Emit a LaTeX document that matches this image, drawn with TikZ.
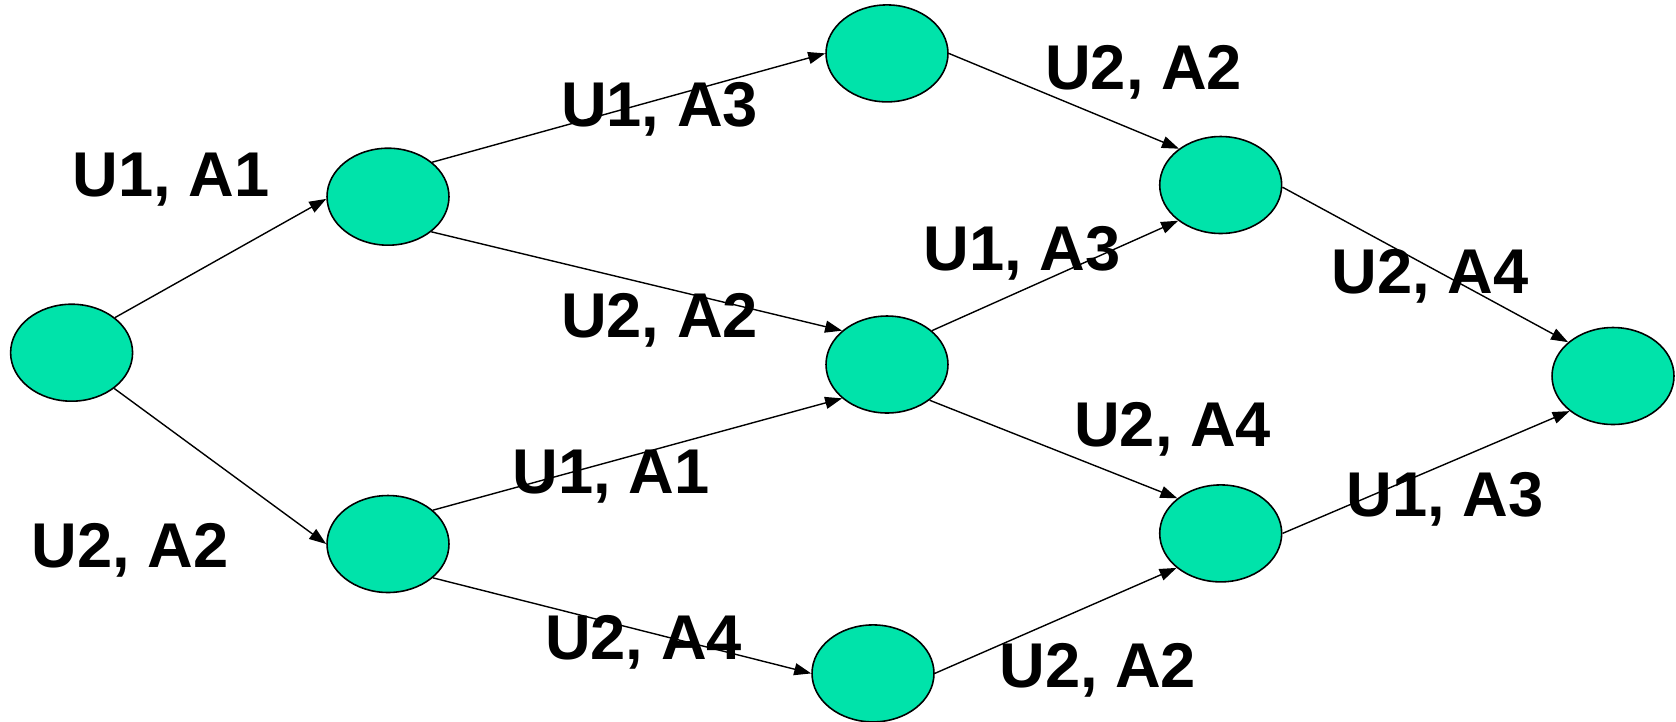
\documentclass[tikz,border=0pt]{standalone}
\usepackage{fontspec}
\setmainfont{Liberation Sans}
\usetikzlibrary{shapes.geometric,arrows.meta}

\definecolor{statefill}{RGB}{0,227,170}

\tikzset{
  state/.style={ellipse, draw=black, line width=0.9pt, fill=statefill,
    minimum width=2.44cm, minimum height=1.94cm, inner sep=0pt},
  move/.style={-{Triangle[length=0.34cm,width=0.24cm]}, line width=0.8pt},
  lbl/.style={font=\fontsize{36}{40}\selectfont\bfseries, inner sep=0pt}
}

\begin{document}
\begin{tikzpicture}[x=0.02cm,y=-0.02cm]
  \useasboundingbox (0,0) rectangle (1676,721);
  % states, left to right
  \node[state] (s0) at (71.6,352.7) {};
  \node[state] (s1) at (388,196.7) {};
  \node[state] (s2) at (388,544) {};
  \node[state] (s3) at (887,53.4) {};
  \node[state] (s4) at (887,364.5) {};
  \node[state] (s5) at (873,673.4) {};
  \node[state] (s6) at (1220.7,185) {};
  \node[state] (s7) at (1220.7,533.4) {};
  \node[state] (s8) at (1613,376) {};
  % transitions, from/to border angles
  \foreach \a/\p/\b/\q in {s0/39/s1/182, s0/-40/s2/180,
                           s1/38/s3/180, s1/-39/s4/143,
                           s2/37/s4/217, s2/-37/s5/180,
                           s3/0/s6/139,  s4/37/s6/220,
                           s4/-40/s7/141, s5/0/s7/218,
                           s6/-2/s8/143, s7/0/s8/219}
    \draw[move] (\a.\p) -- (\b.\q);
  % user/action labels
  \node[lbl] (l01) at (171,179.6) {U1, A1};
  \node[lbl] (l02) at (130.4,550.5) {U2, A2};
  \node[lbl] (l13) at (659.5,109) {U1, A3};
  \node[lbl] (l14) at (659.5,320.7) {U2, A2};
  \node[lbl] (l24) at (611.4,476.7) {U1, A1};
  \node[lbl] (l25) at (643.5,642.4) {U2, A4};
  \node[lbl] (l36) at (1143.7,72.7) {U2, A2};
  \node[lbl] (l46) at (1021.9,253.3) {U1, A3};
  \node[lbl] (l47) at (1172.6,429.7) {U2, A4};
  \node[lbl] (l57) at (1097.8,670.2) {U2, A2};
  \node[lbl] (l68) at (1430.2,276.8) {U2, A4};
  \node[lbl] (l78) at (1445.2,499.2) {U1, A3};
\end{tikzpicture}
\end{document}
